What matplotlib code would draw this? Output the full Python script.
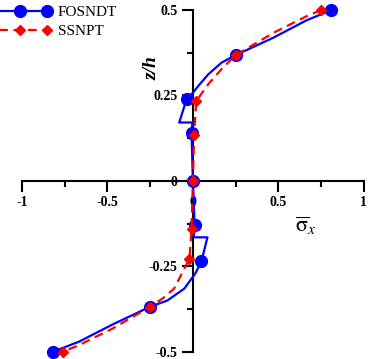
import matplotlib
matplotlib.use("Agg")
import matplotlib.pyplot as plt
from matplotlib.lines import Line2D
from matplotlib.ticker import FixedLocator, FuncFormatter

plt.rcParams['font.family'] = ['Liberation Serif', 'DejaVu Serif']
plt.rcParams['mathtext.fontset'] = 'stix'

# FOSNDT curve (sigma_x, z/h); marker vertices listed in fos_marks
fos_sigma = [0.81, 0.665, 0.47, 0.25, 0.167, 0.09, 0.035, 0.0, -0.037, -0.08, -0.003,
             -0.008, 0.0, 0.01, 0.005, 0.085, 0.05, 0.015, -0.05, -0.15, -0.25,
             -0.47, -0.665, -0.82]
fos_z = [0.5, 0.47, 0.419, 0.368, 0.346, 0.312, 0.28, 0.258, 0.239, 0.171, 0.171,
         0.14, 0.0, -0.13, -0.165, -0.165, -0.235, -0.27, -0.315, -0.35, -0.368,
         -0.42, -0.47, -0.5]
fos_marks = [0, 3, 8, 11, 12, 13, 16, 20, 23]

# SSNPT curve
ssn_sigma = [0.75, 0.665, 0.47, 0.25, 0.167, 0.09, 0.02, 0.007, 0.0, -0.008,
             -0.02, -0.11, -0.18, -0.25, -0.47, -0.665, -0.76]
ssn_z = [0.5, 0.482, 0.433, 0.368, 0.327, 0.283, 0.234, 0.135, 0.0, -0.14,
         -0.227, -0.315, -0.345, -0.368, -0.432, -0.48, -0.5]
ssn_marks = [0, 3, 6, 7, 8, 9, 10, 13, 16]

x_ticks = [-1, -0.5, 0, 0.5, 1]
y_ticks = [-0.5, -0.25, 0, 0.25, 0.5]

fig = plt.figure(figsize=(3.79, 3.59), dpi=100)
ax = fig.add_axes([0.058, 0.02, 0.902, 0.952])

ax.plot(fos_sigma, fos_z, color='#0000ff', lw=1.6, marker='o', ms=8.5,
        markevery=fos_marks, clip_on=False, zorder=3)
ax.plot(ssn_sigma, ssn_z, color='#ff0000', lw=1.6, ls=(0, (4, 2.5)), marker='D',
        ms=5.5, markevery=ssn_marks, clip_on=False, zorder=4)

ax.set_xlim(-1, 1)
ax.set_ylim(-0.5, 0.5)
for s in ['top', 'right']:
    ax.spines[s].set_visible(False)
ax.spines['left'].set_position(('data', 0))
ax.spines['bottom'].set_position(('data', 0))
for s in ['left', 'bottom']:
    ax.spines[s].set_linewidth(1.5)

fmt = FuncFormatter(lambda v, p: f"{v:g}")
ax.xaxis.set_major_locator(FixedLocator(x_ticks))
ax.yaxis.set_major_locator(FixedLocator(y_ticks))
ax.xaxis.set_minor_locator(FixedLocator([-0.75, -0.25, 0.25, 0.75]))
ax.yaxis.set_minor_locator(FixedLocator([-0.375, -0.125, 0.125, 0.375]))
ax.xaxis.set_major_formatter(fmt)
ax.yaxis.set_major_formatter(fmt)
ax.tick_params(which='major', direction='out', length=8, width=1.5,
               labelsize=10, pad=3)
ax.tick_params(which='minor', direction='out', length=4, width=1.5)
for lab in ax.get_xticklabels() + ax.get_yticklabels():
    lab.set_fontweight('bold')

ax.text(-0.24, 0.33, 'z/h', rotation=90, ha='center', va='center',
        fontsize=14, fontweight='bold', fontstyle='italic')
ax.text(0.66, -0.13, r'$\overline{\mathrm{\sigma}}_x$', ha='center', va='center',
        fontsize=16)

handles = [Line2D([], [], color='#0000ff', lw=1.6, marker='o', ms=8.5),
           Line2D([], [], color='#ff0000', lw=1.6, ls=(0, (4, 2.5)), marker='D', ms=5.5)]
fig.legend(handles, ['FOSNDT', 'SSNPT'], loc='upper left',
           bbox_to_anchor=(-0.034, 0.985), frameon=False, fontsize=11,
           numpoints=3, handlelength=4.25, handletextpad=0.37,
           borderpad=0, borderaxespad=0, labelspacing=0.35)

fig.savefig('out.png', dpi=100)
